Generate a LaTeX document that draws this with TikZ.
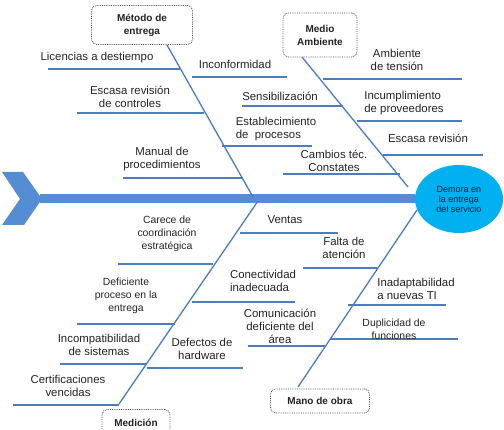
\documentclass[tikz,border=0pt]{standalone}
\usepackage{fontspec}
\setmainfont{Liberation Sans}
\usepackage{tikz}
\usetikzlibrary{positioning,shapes.geometric}
\definecolor{boneblue}{RGB}{74,126,193}
\definecolor{spineblue}{RGB}{84,141,212}
\definecolor{effectcyan}{RGB}{0,176,240}
\definecolor{txtdark}{RGB}{35,35,35}
\definecolor{navytxt}{RGB}{20,30,70}

\tikzset{
  bone/.style={draw=boneblue, line width=1.3pt},
  rib/.style={draw=boneblue, line width=1.7pt},
  lbl/.style={font=\fontsize{11.4}{13}\selectfont, text=txtdark, align=center, inner sep=0pt},
  lblsm/.style={font=\fontsize{10.4}{13}\selectfont, text=txtdark, align=center, inner sep=0pt},
  catbox/.style={draw=gray!60!black, densely dotted, thick, rounded corners=5pt, fill=white,
    font=\bfseries\fontsize{10}{13}\selectfont, text=txtdark, align=center, inner sep=2pt}
}

\begin{document}
\begin{tikzpicture}[x=1pt, y=-1pt]
  \useasboundingbox (0,0) rectangle (504,430);
  \clip (0,0) rectangle (504,430);

  % spine and head
  \fill[spineblue] (2,172) -- (23,172) -- (42,199) -- (24,225) -- (2,225) -- (20,199) -- cycle;
  \coordinate (tail) at (40,199);
  \node[ellipse, fill=effectcyan, minimum width=88, minimum height=68, inner sep=0pt,
    font=\fontsize{9}{10}\selectfont, text=navytxt, align=center] (efecto) at (459,199)
    {Demora en\\la entrega\\del servicio};
  \draw[spineblue, line width=9pt] (tail) -- (efecto.west);

  % category boxes
  \node[catbox, minimum width=101, minimum height=39] (metodo) at (142,25) {Método de\\entrega};
  \node[catbox, minimum width=74, minimum height=44] (medio) at (320,35) {Medio\\Ambiente};
  \node[catbox, minimum width=68, minimum height=27] (medicion) at (136,423) {Medición};
  \node[catbox, minimum width=99, minimum height=24] (mano) at (320,401) {Mano de obra};

  % main bones
  \coordinate (metodo-a) at (167,45);  \coordinate (metodo-b) at (253,197);
  \coordinate (medio-a) at (302,57);   \coordinate (medio-b) at (408,187);
  \coordinate (medicion-a) at (258,201); \coordinate (medicion-b) at (119,404);
  \coordinate (mano-a) at (417,210);   \coordinate (mano-b) at (298,387);
  \foreach \b in {metodo,medio,medicion,mano}
    \draw[bone] (\b-a) -- (\b-b);

  % ribs
  \foreach \n/\xa/\xb/\yy in {lic/48/180/69, esc/77/204/113, man/123/243/178,
      inc/192/287/77, sen/242/343/106, est/222/312/146, cam/283/400/174,
      amb/323/462/79, incu/357/462/121, escr/383/483/155,
      car/118/213/264, def/77/175/324, incom/60/147/364, cert/13/119/405,
      ven/240/338/233, fal/303/377/268, con/192/295/302, com/248/325/346, defe/147/243/368,
      inad/348/446/305, dup/330/458/339}
  {
    \coordinate (\n-a) at (\xa,\yy);
    \coordinate (\n-b) at (\xb,\yy);
    \draw[rib] (\n-a) -- (\n-b);
  }

  % causes
  \node[lbl] (lic-t) at (97,58) {Licencias a destiempo};
  \node[lbl] (esc-t) at (130,97) {Escasa revisión\\de controles};
  \node[lbl] (man-t) at (162,159) {Manual de\\procedimientos};
  \node[lbl] (inc-t) at (235,64) {Inconformidad};
  \node[lbl] (sen-t) at (280,96) {Sensibilización};
  \node[lbl, align=left] (est-t) at (276,129) {Establecimiento\\de\ \ procesos};
  \node[lbl] (cam-t) at (334,161) {Cambios téc.\\Constates};
  \node[lbl] (amb-t) at (397,60) {Ambiente\\de tensión};
  \node[lbl, align=left] (incu-t) at (404,103) {Incumplimiento\\de proveedores};
  \node[lbl] (escr-t) at (428,138) {Escasa revisión};
  \node[lblsm] (car-t) at (167,234) {Carece de\\coordinación\\estratégica};
  \node[lblsm] (def-t) at (126,296) {Deficiente\\proceso en la\\entrega};
  \node[lbl] (incom-t) at (99,345) {Incompatibilidad\\de sistemas};
  \node[lbl] (cert-t) at (68,386) {Certificaciones\\vencidas};
  \node[lbl] (ven-t) at (285,220) {Ventas};
  \node[lbl] (fal-t) at (344,248) {Falta de\\atención};
  \node[lbl, align=left] (con-t) at (263,281) {Conectividad\\inadecuada};
  \node[lbl] (com-t) at (280,326) {Comunicación\\deficiente del\\área};
  \node[lbl] (defe-t) at (202,349) {Defectos de\\hardware};
  \node[lbl, align=left] (inad-t) at (416,289) {Inadaptabilidad\\a nuevas TI};
  \node[lblsm] (dup-t) at (394,329) {Duplicidad de\\funciones};
\end{tikzpicture}
\end{document}
